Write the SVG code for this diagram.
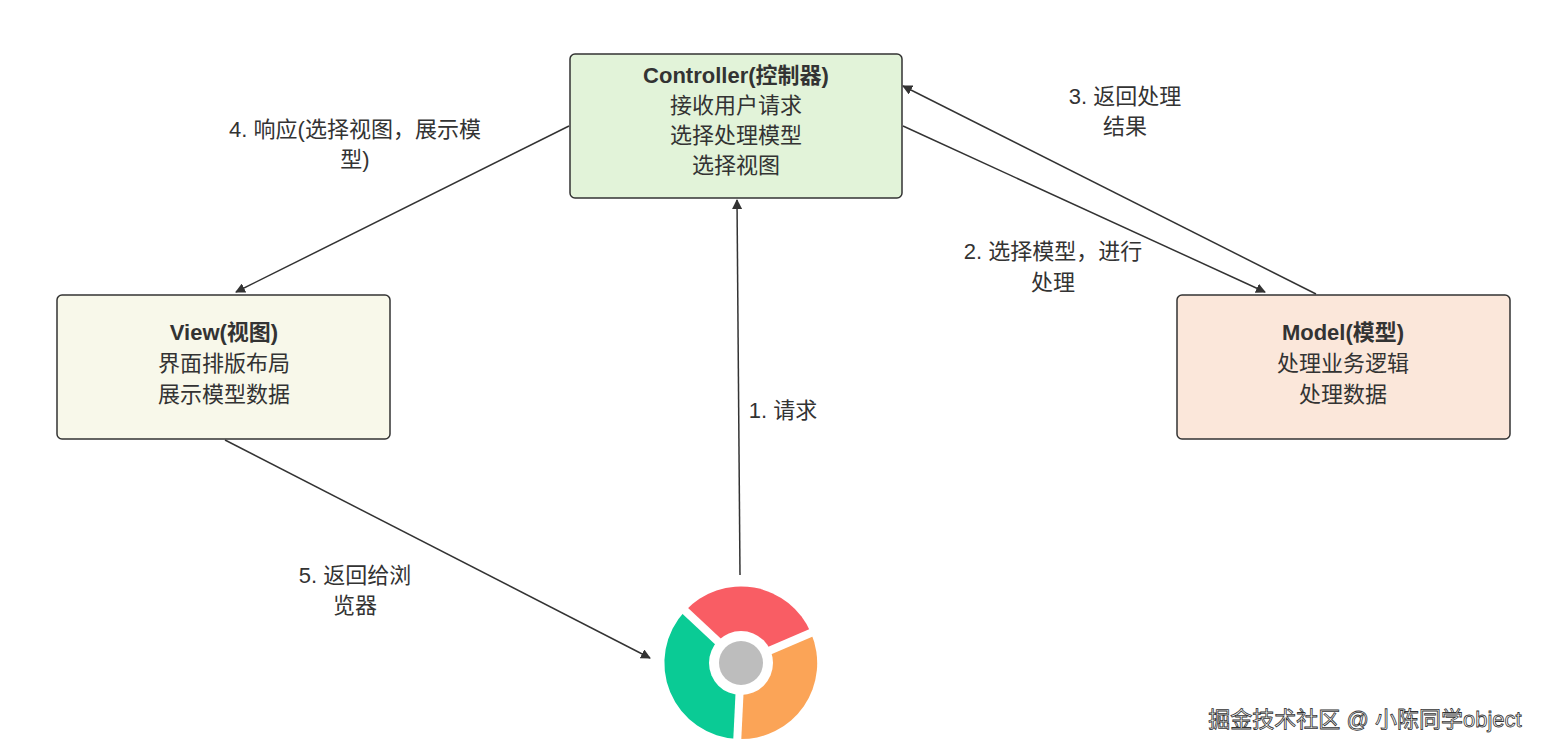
<svg xmlns="http://www.w3.org/2000/svg" width="1568" height="754" viewBox="0 0 1568 754">
<defs>
<style>
.box{stroke:#333;stroke-width:1.5}
.t{font-family:"Liberation Sans","Noto Sans CJK SC",sans-serif;font-size:22px;fill:#333;text-anchor:middle}
.b{font-weight:bold}
.e{stroke:#333;stroke-width:1.5;fill:none;marker-end:url(#a)}
</style>
<marker id="a" viewBox="0 0 10 10" refX="9" refY="5" markerWidth="10" markerHeight="10" markerUnits="userSpaceOnUse" orient="auto"><path d="M0,0L10,5L0,10z" fill="#333"/></marker>
</defs>
<rect width="1568" height="754" fill="#fff"/>
<g id="controller"><rect class="box" x="570" y="54" width="332" height="144" rx="5" fill="#e2f3d9"/>
<text class="t b" x="736" y="83">Controller(控制器)</text>
<text class="t" x="736" y="113">接收用户请求</text>
<text class="t" x="736" y="143">选择处理模型</text>
<text class="t" x="736" y="173">选择视图</text></g>
<g id="view"><rect class="box" x="57" y="295" width="333" height="144" rx="5" fill="#f8f8ea"/>
<text class="t b" x="224" y="340">View(视图)</text>
<text class="t" x="224" y="371">界面排版布局</text>
<text class="t" x="224" y="402">展示模型数据</text></g>
<g id="model"><rect class="box" x="1177" y="295" width="333" height="144" rx="5" fill="#fbe7da"/>
<text class="t b" x="1343" y="340">Model(模型)</text>
<text class="t" x="1343" y="371">处理业务逻辑</text>
<text class="t" x="1343" y="402">处理数据</text></g>
<g id="browser">
<path d="M741,663 L685,611 A76,76 0 0 1 811,633 Z" fill="#f95d64"/>
<path d="M741,663 L811,633 A76,76 0 0 1 738,739 Z" fill="#fba457"/>
<path d="M741,663 L738,739 A76,76 0 0 1 685,611 Z" fill="#0acb95"/>
<g stroke="#fff" stroke-width="8"><line x1="741" y1="663" x2="680" y2="606"/><line x1="741" y1="663" x2="820" y2="629"/><line x1="741" y1="663" x2="737" y2="745"/></g>
<circle cx="741" cy="663" r="32" fill="#fff"/>
<circle cx="741" cy="663" r="22" fill="#bdbdbd"/>
</g>
<g id="connectors">
<path class="e" d="M569,126 L236,292"/>
<path class="e" d="M903,126 L1265,292"/>
<path class="e" d="M1316,294 L903,86"/>
<path class="e" d="M740,575 L737,200"/>
<path class="e" d="M225,440 L650,658"/>
<text class="t" x="355" y="137">4. 响应(选择视图，展示模</text>
<text class="t" x="355" y="167">型)</text>
<text class="t" x="1125" y="104">3. 返回处理</text>
<text class="t" x="1125" y="134">结果</text>
<text class="t" x="1053" y="259">2. 选择模型，进行</text>
<text class="t" x="1053" y="290">处理</text>
<text class="t" x="783" y="418">1. 请求</text>
<text class="t" x="355" y="583">5. 返回给浏</text>
<text class="t" x="355" y="613">览器</text>
</g>
<text x="1365" y="727" font-family="Liberation Sans,Noto Sans CJK SC,sans-serif" font-size="22" fill="#fff" stroke="#333" stroke-width="0.8" text-anchor="middle">掘金技术社区 @ 小陈同学object</text>
</svg>
